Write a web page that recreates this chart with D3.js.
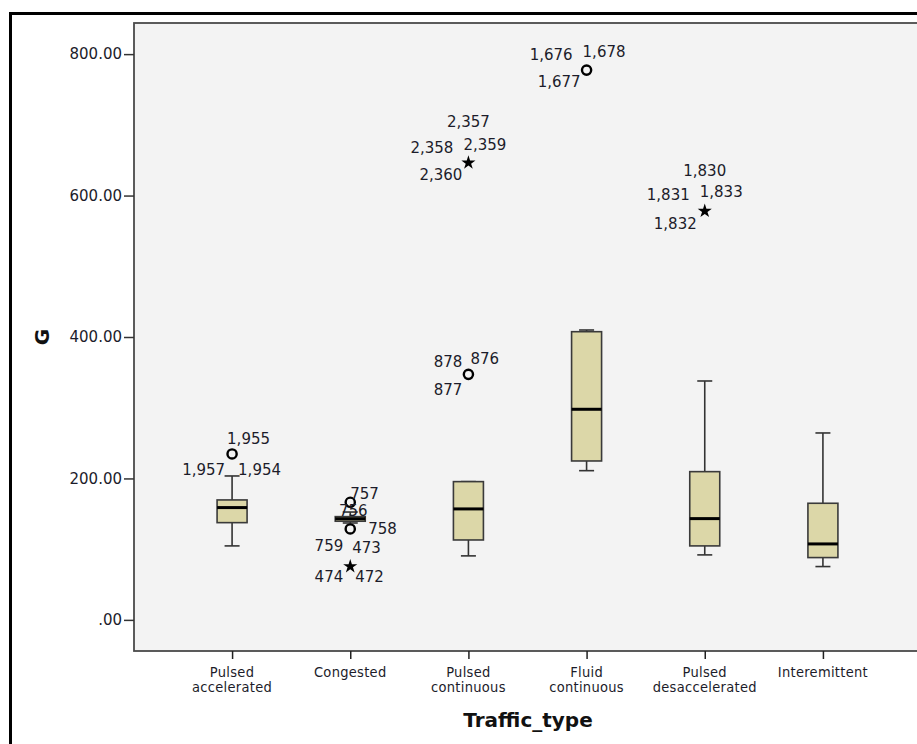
<!DOCTYPE html>
<html>
<head>
<meta charset="utf-8">
<script src="https://cdn.jsdelivr.net/npm/d3@7"></script>
<style>
  html, body { margin: 0; padding: 0; background: #ffffff; }
  svg { display: block; }
  .tick-label { font-family: "DejaVu Sans", sans-serif; font-size: 15px; fill: #1c1c2a; }
  .cat-label { font-family: "DejaVu Sans Condensed", "Liberation Sans Narrow", "DejaVu Sans", sans-serif; font-stretch: condensed; font-size: 14.5px; letter-spacing: 0.3px; fill: #1c1c2a; }
  .out-label { font-family: "DejaVu Sans", sans-serif; font-size: 15px; fill: #1c1c2a; }
  .axis-title { font-family: "DejaVu Sans", sans-serif; font-weight: bold; font-size: 20px; fill: #111; }
</style>
</head>
<body>
<svg id="chart" width="917" height="744"></svg>
<script>
// Traffic types along the x axis
const categories = ["Pulsed accelerated", "Congested", "Pulsed continuous",
                    "Fluid continuous", "Pulsed desaccelerated", "Interemittent"];

// Five-number summaries of G per traffic type
const lowerWhisker = [104.6, 137.0,  90.5, 211.0,  91.9,  75.4];
const q1           = [137.5, 139.5, 113.0, 224.7, 104.6,  88.1];
const median       = [158.8, 143.0, 156.9, 297.8, 143.2, 107.4];
const q3           = [169.6, 146.0, 195.5, 407.5, 209.6, 164.9];
const upperWhisker = [203.5, 152.5, 195.5, 409.9, 337.8, 264.3];

// Outliers (circle) and extreme values (star), with case numbers
const outlierCategory = ["Pulsed accelerated", "Congested", "Congested", "Congested",
                         "Pulsed continuous", "Pulsed continuous", "Fluid continuous",
                         "Pulsed desaccelerated"];
const outlierValue = [234.6, 166.3, 128.6, 77.0, 347.2, 647.8, 777.4, 579.5];
const outlierKind  = ["circle", "circle", "circle", "star", "circle", "star", "circle", "star"];
const outlierCases = [
  ["1,955", "1,957", "1,954"],
  ["757", "756"],
  ["758", "759", "473"],
  ["474", "472"],
  ["878", "876", "877"],
  ["2,357", "2,358", "2,359", "2,360"],
  ["1,676", "1,678", "1,677"],
  ["1,830", "1,831", "1,833", "1,832"]
];

// Y axis ticks
const yTickValues = [0, 200, 400, 600, 800];
const yTickLabels = [".00", "200.00", "400.00", "600.00", "800.00"];

const xTitle = "Traffic_type";
const yTitle = "G";

// Where each case-number label sits around its marker: [dx, dy, anchor]
const labelPlacement = [
  [[-5, -10, "start"], [-7, 21, "end"], [6, 21, "start"]],
  [[0, -3, "start"], [3, 14, "middle"]],
  [[18, 5, "start"], [-7, 22, "end"], [2, 24, "start"]],
  [[-7, 17, "end"], [5, 17, "start"]],
  [[-6, -7, "end"], [2, -10, "start"], [-6, 21, "end"]],
  [[0, -35, "middle"], [-15, -9, "end"], [-5, -12, "start"], [-6, 18, "end"]],
  [[-14, -10, "end"], [-4, -13, "start"], [-6, 17, "end"]],
  [[0, -34, "middle"], [-15, -10, "end"], [-5, -13, "start"], [-8, 19, "end"]]
];

const svg = d3.select("#chart");

// Outer frame
svg.append("rect")
  .attr("x", 10.5).attr("y", 13.5)
  .attr("width", 960).attr("height", 780)
  .attr("fill", "#ffffff")
  .attr("stroke", "#000").attr("stroke-width", 3);

const plot = { left: 134, top: 23, right: 921, bottom: 651 };

const x = d3.scalePoint()
  .domain(categories)
  .range([plot.left, plot.right])
  .padding(0.83);

const y = d3.scaleLinear()
  .domain([-44, 844])
  .range([plot.bottom, plot.top]);

// Plot background
svg.append("rect")
  .attr("x", plot.left).attr("y", plot.top)
  .attr("width", plot.right - plot.left).attr("height", plot.bottom - plot.top)
  .attr("fill", "#f3f3f3")
  .attr("stroke", "#4a4a4a").attr("stroke-width", 1.8);

// Y axis
const yAxis = d3.axisLeft(y)
  .tickValues(yTickValues)
  .tickSize(10)
  .tickPadding(2)
  .tickFormat((d, i) => yTickLabels[i]);
const gy = svg.append("g").attr("transform", `translate(${plot.left},0)`).call(yAxis);
gy.select(".domain").remove();
gy.selectAll(".tick line").attr("stroke", "#333").attr("stroke-width", 1.5);
gy.selectAll(".tick text").attr("class", "tick-label").attr("font-family", null).attr("font-size", null);

// X axis
const xAxis = d3.axisBottom(x).tickSize(8).tickFormat("");
const gx = svg.append("g").attr("transform", `translate(0,${plot.bottom})`).call(xAxis);
gx.select(".domain").remove();
gx.selectAll(".tick line").attr("stroke", "#222").attr("stroke-width", 1.5);

// Category labels, one word per line
categories.forEach(c => {
  c.split(" ").forEach((w, i) => {
    svg.append("text")
      .attr("class", "cat-label")
      .attr("text-anchor", "middle")
      .attr("x", x(c))
      .attr("y", 677 + i * 15)
      .text(w);
  });
});

// Axis titles
svg.append("text")
  .attr("class", "axis-title")
  .attr("text-anchor", "middle")
  .attr("x", (x(categories[0]) + x(categories[categories.length - 1])) / 2 + 0.5)
  .attr("y", 727)
  .text(xTitle);

svg.append("text")
  .attr("class", "axis-title")
  .attr("text-anchor", "middle")
  .attr("transform", `translate(49,${y(400)}) rotate(-90)`)
  .text(yTitle);

// Boxes
const boxW = 30, capW = 15;
const boxes = svg.append("g");
categories.forEach((c, i) => {
  const cx = x(c);
  const g = boxes.append("g");
  // whiskers
  g.append("line")
    .attr("x1", cx).attr("x2", cx)
    .attr("y1", y(upperWhisker[i])).attr("y2", y(q3[i]))
    .attr("stroke", "#333").attr("stroke-width", 1.6);
  g.append("line")
    .attr("x1", cx).attr("x2", cx)
    .attr("y1", y(q1[i])).attr("y2", y(lowerWhisker[i]))
    .attr("stroke", "#333").attr("stroke-width", 1.6);
  [upperWhisker[i], lowerWhisker[i]].forEach(v => {
    g.append("line")
      .attr("x1", cx - capW / 2).attr("x2", cx + capW / 2)
      .attr("y1", y(v)).attr("y2", y(v))
      .attr("stroke", "#333").attr("stroke-width", 1.6);
  });
  // box
  g.append("rect")
    .attr("x", cx - boxW / 2).attr("y", y(q3[i]))
    .attr("width", boxW).attr("height", y(q1[i]) - y(q3[i]))
    .attr("fill", "#dcd7a8")
    .attr("stroke", "#3a3a3a").attr("stroke-width", 1.6);
  // median
  g.append("line")
    .attr("x1", cx - boxW / 2).attr("x2", cx + boxW / 2)
    .attr("y1", y(median[i])).attr("y2", y(median[i]))
    .attr("stroke", "#000").attr("stroke-width", 3);
});

// Outliers and extremes
const marks = svg.append("g");
const star = d3.symbol().type(d3.symbolStar).size(62);
outlierValue.forEach((v, i) => {
  const cx = x(outlierCategory[i]);
  const cy = y(v);
  if (outlierKind[i] === "circle") {
    marks.append("circle")
      .attr("cx", cx).attr("cy", cy).attr("r", 4.6)
      .attr("fill", "none")
      .attr("stroke", "#000").attr("stroke-width", 2.4);
  } else {
    marks.append("path")
      .attr("d", star)
      .attr("transform", `translate(${cx},${cy + 1})`)
      .attr("fill", "#000");
  }
  outlierCases[i].forEach((lab, j) => {
    const [dx, dy, anchor] = labelPlacement[i][j];
    marks.append("text")
      .attr("class", "out-label")
      .attr("text-anchor", anchor)
      .attr("x", cx + dx)
      .attr("y", cy + dy)
      .text(lab);
  });
});
</script>
</body>
</html>
